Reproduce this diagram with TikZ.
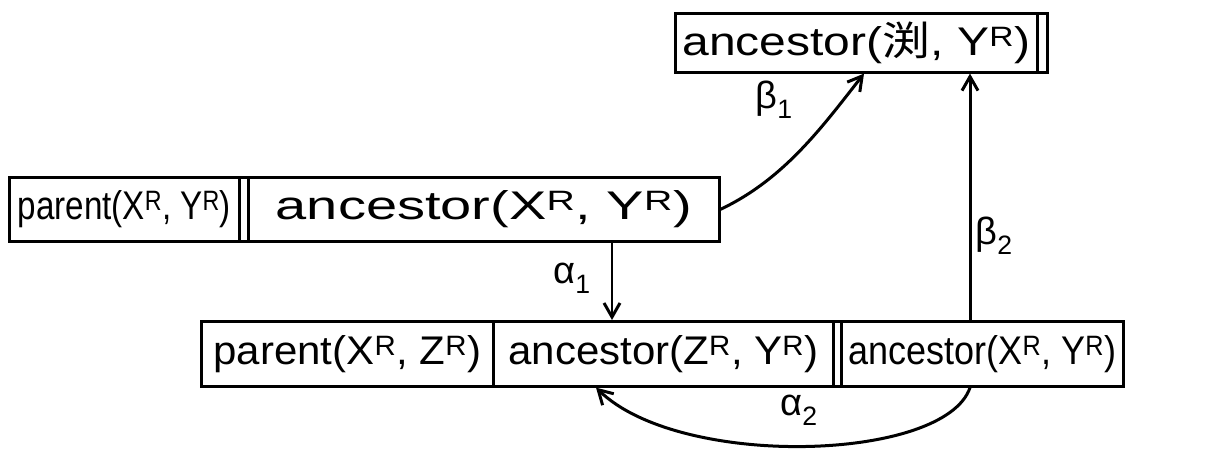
\documentclass[tikz,border=0pt]{standalone}
\usepackage{fontspec}
\setmainfont{Liberation Sans}
\newfontfamily\cjk{Noto Sans CJK JP}
\usetikzlibrary{arrows.meta,calc}
\newcommand\sR{\textsuperscript{R}}
\newcommand\xs[2]{\scalebox{#1}[1]{#2}}
\begin{document}
\begin{tikzpicture}[x=1pt,y=-1pt,
  cell/.style={draw, line width=2.6pt, inner sep=0pt, anchor=north west,
    font=\fontsize{40}{40}\selectfont},
  arr/.style={line width=3pt, -{Straight Barb[length=14pt,width=16pt,line width=3pt]}},
  lab/.style={font=\fontsize{38}{38}\selectfont}]
\useasboundingbox (0,0) rectangle (1231,455);
% top
\node[cell, minimum width=362pt, minimum height=59pt] (top) at (674,12) {\xs{1.2}{ancestor(\cjk 渕\rmfamily, Y\sR)}};
\node[cell, minimum width=10pt, minimum height=59pt] (topend) at (1036,12) {};
% middle row
\node[cell, minimum width=230pt, minimum height=64pt] (p1) at (8,176) {\xs{0.83}{parent(X\sR, Y\sR)}};
\node[cell, minimum width=9pt, minimum height=64pt] (g1) at (238,176) {};
\node[cell, minimum width=471pt, minimum height=64pt] (a1) at (247,176) {\xs{1.4}{ancestor(X\sR, Y\sR)}};
% bottom row
\node[cell, minimum width=292pt, minimum height=65pt] (p2) at (200,320) {\xs{1.05}{parent(X\sR, Z\sR)}};
\node[cell, minimum width=340pt, minimum height=65pt] (a2) at (492,320) {\xs{1.05}{ancestor(Z\sR, Y\sR)}};
\node[cell, minimum width=8pt, minimum height=65pt] (g2) at (832,320) {};
\node[cell, minimum width=282pt, minimum height=65pt] (a3) at (840,320) {\xs{0.9}{ancestor(X\sR, Y\sR)}};
% connection points
\coordinate (al1s) at ($(a1.south west)+(365,0)$);
\coordinate (be1e) at ($(top.south west)+(190,0)$);
\coordinate (be2s) at ($(a3.north west)+(130,0)$);
\coordinate (al2s) at ($(a3.south west)+(130,0)$);
\coordinate (al2e) at ($(a2.south west)+(104,0)$);
% arrows
\draw[arr, line width=2.2pt] (al1s) -- (al1s |- a2.north);
\draw[arr] (a1.east) .. controls ($(a1.east)+(63,-30)$) and ($(be1e)+(-43,55)$) .. (be1e);
\draw[arr] (be2s) -- (be2s |- top.south);
\draw[arr] (al2s) .. controls ($(al2s)+(-25,74)$) and ($(al2e)+(84,82)$) .. (al2e);
% labels
\node[lab] (lb1) at (774,100) {β\textsubscript{1}};
\node[lab] (lb2) at (994,236) {β\textsubscript{2}};
\node[lab] (la1) at (572,278) {α\textsubscript{1}};
\node[lab] (la2) at (799,410) {α\textsubscript{2}};
\end{tikzpicture}
\end{document}
